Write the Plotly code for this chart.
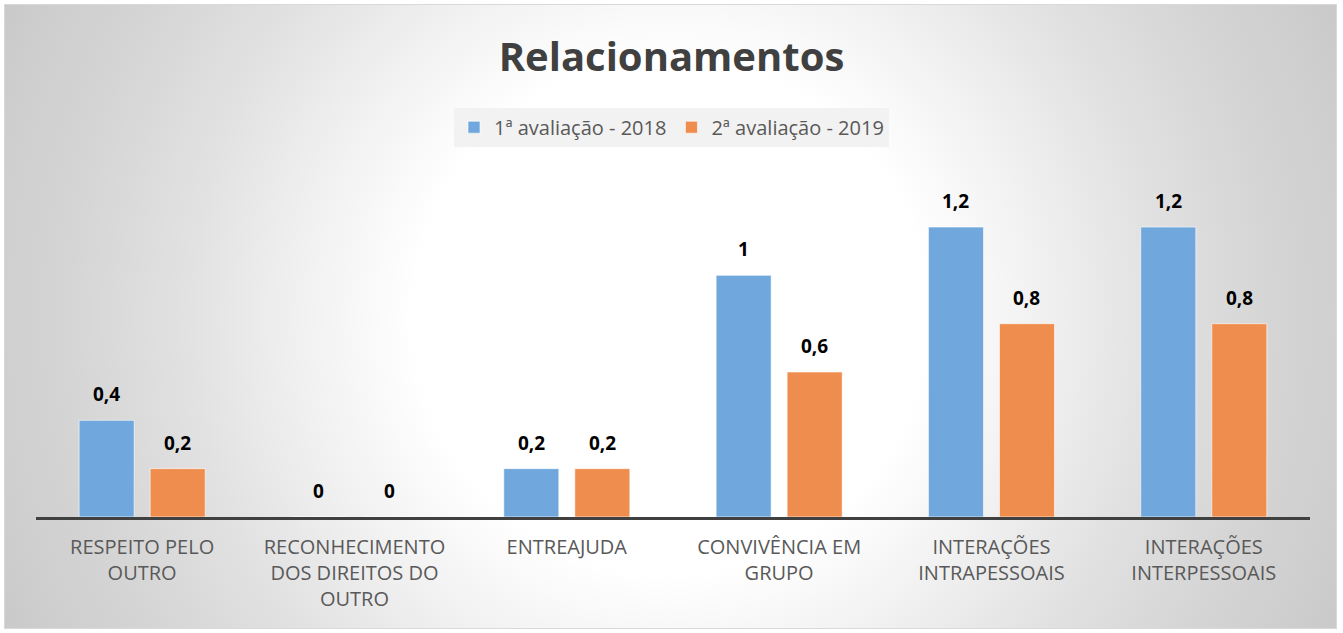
import plotly.graph_objects as go

categorias = [
    "RESPEITO PELO<br>OUTRO",
    "RECONHECIMENTO<br>DOS DIREITOS DO<br>OUTRO",
    "ENTREAJUDA",
    "CONVIVÊNCIA EM<br>GRUPO",
    "INTERAÇÕES<br>INTRAPESSOAIS",
    "INTERAÇÕES<br>INTERPESSOAIS",
]
aval_2018 = [0.4, 0, 0.2, 1, 1.2, 1.2]
aval_2019 = [0.2, 0, 0.2, 0.6, 0.8, 0.8]
nome_2018 = "1ª avaliação - 2018"
nome_2019 = "2ª avaliação - 2019"

AZUL = "#70a7dc"
LARANJA = "#ef8d4e"
FONTE = "Open Sans"

# fundo: gradiente radial circular (quadrado grande recortado pela moldura)
fundo = go.Scatter(
    x=[-0.101, 1.101, 1.101, -0.101, -0.101],
    y=[-0.784, -0.784, 1.784, 1.784, -0.784],
    mode="lines",
    line=dict(width=0),
    fill="toself",
    fillgradient=dict(type="radial", colorscale=[
        [0, "#ffffff"], [0.32, "#ffffff"], [0.47, "#f0f0f0"], [0.6, "#e2e2e2"],
        [0.75, "#d5d5d5"], [0.875, "#cdcdcd"], [1, "#c3c3c3"]]),
    hoverinfo="skip",
    showlegend=False,
    xaxis="x", yaxis="y",
)

barras = [
    go.Bar(x=categorias, y=aval_2018, name=nome_2018,
           marker=dict(color=AZUL, line=dict(color="rgba(255,255,255,0.6)", width=1)),
           xaxis="x2", yaxis="y2"),
    go.Bar(x=categorias, y=aval_2019, name=nome_2019,
           marker=dict(color=LARANJA, line=dict(color="rgba(255,255,255,0.6)", width=1)),
           xaxis="x2", yaxis="y2"),
]

def fmt(v):
    return ("%g" % v).replace(".", ",")

anotacoes = []
for serie, desloc in ((aval_2018, -35.5), (aval_2019, 35.5)):
    for cat, v in zip(categorias, serie):
        anotacoes.append(dict(
            x=cat, y=v, xref="x2", yref="y2", text="<b>%s</b>" % fmt(v),
            showarrow=False, xshift=desloc, yanchor="bottom", yshift=11,
            font=dict(family=FONTE, size=19, color="#000000"),
        ))

moldura = dict(showline=True, linecolor="#d9d9d9", linewidth=1, mirror=True,
               showgrid=False, zeroline=False, showticklabels=False, ticks="",
               range=[0, 1], fixedrange=True)

fig = go.Figure(data=[fundo] + barras)
fig.update_layout(
    width=1343, height=633,
    margin=dict(l=0, r=0, t=0, b=0),
    paper_bgcolor="white",
    plot_bgcolor="rgba(0,0,0,0)",
    title=dict(text="<b>Relacionamentos</b>", x=0.5, xanchor="center", y=0.91, yanchor="middle",
               font=dict(family=FONTE, size=40, color="#404040")),
    legend=dict(orientation="h", x=0.5, xanchor="center", y=0.799, yanchor="middle",
                bgcolor="#f2f2f2", font=dict(family=FONTE, size=20, color="#595959")),
    bargap=0.331, bargroupgap=0.225,
    xaxis=dict(domain=[0.0037, 0.9948], **moldura),
    yaxis=dict(domain=[0.0079, 0.9921], **moldura),
    xaxis2=dict(domain=[0.0268, 0.9754], anchor="y2", showline=True, linecolor="#404040", linewidth=3,
                showgrid=False, ticks="", ticklabelstandoff=10,
                tickfont=dict(family=FONTE, size=20, color="#595959")),
    yaxis2=dict(domain=[0.1833, 0.794], anchor="x2", range=[0, 1.6], visible=False, showgrid=False),
    annotations=anotacoes,
)

fig.write_html("out.html", config={"displayModeBar": False},
               post_script="document.body.style.margin='0';")
